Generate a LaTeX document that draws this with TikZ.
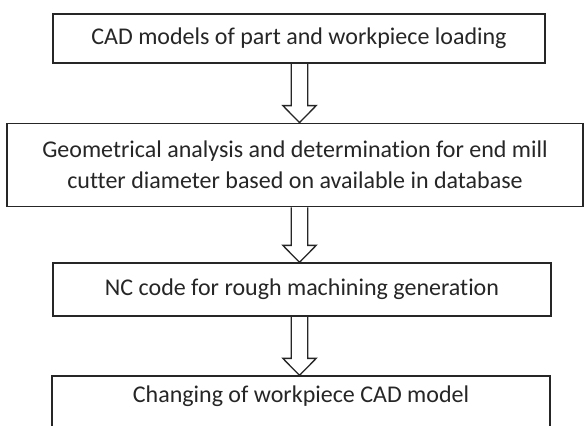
\documentclass[tikz,border=0pt]{standalone}
\usepackage{fontspec}
\setmainfont[Ligatures=NoCommon]{Carlito}
\usetikzlibrary{calc}
\begin{document}
\begin{tikzpicture}[x=1pt,y=-1pt,
  box/.style={draw=black!85, line width=1.3pt, rectangle, align=center, inner sep=0pt,
    text=black!85, font=\fontsize{24pt}{31pt}\selectfont},
  hollow/.style={draw=black!85, line width=1.3pt, line join=miter}]
\useasboundingbox (0,0) rectangle (585,425);
\clip (0,0) rectangle (585,425);
\fill[white] (0,0) rectangle (585,425);
\node[box, minimum width=492pt, minimum height=49pt] (b1) at (299,38.5)
  {CAD models of part and workpiece loading};
\node[box, minimum width=576pt, minimum height=83.5pt] (b2) at (295,165)
  {Geometrical analysis and determination for end mill\\cutter diameter based on available in database};
\node[box, minimum width=498pt, minimum height=53pt] (b3) at (302,289.5)
  {NC code for rough machining generation};
\node[box, minimum width=498pt, minimum height=53pt, text height=20pt, text depth=21pt] (b4) at (301,402.5)
  {Changing of workpiece CAD model};
\coordinate (ax) at (299.5,0);
\newcommand\hollowarrow[2]{%
  \draw[hollow] ($(ax |- #1.south)+(-8.3,0)$) -- ($(ax |- #2.north)+(-8.3,-17)$)
    -- ($(ax |- #2.north)+(-16.7,-17)$) -- (ax |- #2.north)
    -- ($(ax |- #2.north)+(16.7,-17)$) -- ($(ax |- #2.north)+(8.3,-17)$)
    -- ($(ax |- #1.south)+(8.3,0)$);}
\hollowarrow{b1}{b2}
\hollowarrow{b2}{b3}
\hollowarrow{b3}{b4}
\end{tikzpicture}
\end{document}
